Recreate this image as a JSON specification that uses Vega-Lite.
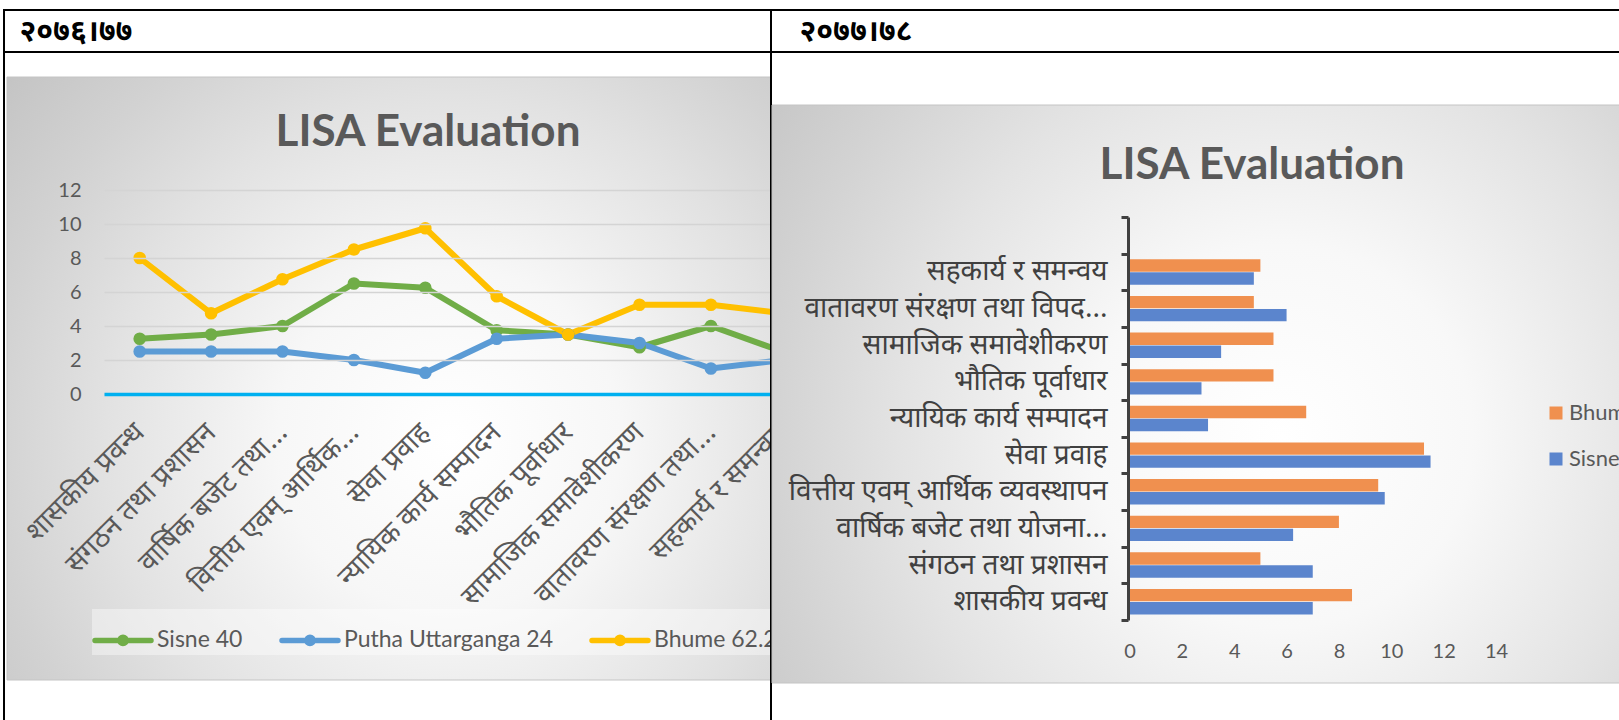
{
  "$schema": "https://vega.github.io/schema/vega-lite/v6.json",
  "padding": {"left": 2, "top": -5, "right": 0, "bottom": 0},
  "background": "#ffffff",
  "config": {
    "view": {"stroke": "#000000", "strokeWidth": 2, "fill": "#ffffff"},
    "font": "Lato"
  },
  "datasets": {
    "line2076": [
      {"indicator": "शासकीय प्रवन्ध", "series": "Sisne  40", "score": 3.25},
      {"indicator": "संगठन तथा प्रशासन", "series": "Sisne  40", "score": 3.5},
      {"indicator": "वार्षिक बजेट तथा…", "series": "Sisne  40", "score": 4},
      {"indicator": "वित्तीय एवम् आर्थिक…", "series": "Sisne  40", "score": 6.5},
      {"indicator": "सेवा प्रवाह", "series": "Sisne  40", "score": 6.25},
      {"indicator": "न्यायिक कार्य सम्पादन", "series": "Sisne  40", "score": 3.75},
      {"indicator": "भौतिक पूर्वाधार", "series": "Sisne  40", "score": 3.5},
      {"indicator": "सामाजिक समावेशीकरण", "series": "Sisne  40", "score": 2.75},
      {"indicator": "वातावरण संरक्षण तथा…", "series": "Sisne  40", "score": 4},
      {"indicator": "सहकार्य र समन्वय", "series": "Sisne  40", "score": 2.5},
      {"indicator": "शासकीय प्रवन्ध", "series": "Putha Uttarganga  24", "score": 2.5},
      {"indicator": "संगठन तथा प्रशासन", "series": "Putha Uttarganga  24", "score": 2.5},
      {"indicator": "वार्षिक बजेट तथा…", "series": "Putha Uttarganga  24", "score": 2.5},
      {"indicator": "वित्तीय एवम् आर्थिक…", "series": "Putha Uttarganga  24", "score": 2},
      {"indicator": "सेवा प्रवाह", "series": "Putha Uttarganga  24", "score": 1.25},
      {"indicator": "न्यायिक कार्य सम्पादन", "series": "Putha Uttarganga  24", "score": 3.25},
      {"indicator": "भौतिक पूर्वाधार", "series": "Putha Uttarganga  24", "score": 3.5},
      {"indicator": "सामाजिक समावेशीकरण", "series": "Putha Uttarganga  24", "score": 3},
      {"indicator": "वातावरण संरक्षण तथा…", "series": "Putha Uttarganga  24", "score": 1.5},
      {"indicator": "सहकार्य र समन्वय", "series": "Putha Uttarganga  24", "score": 2},
      {"indicator": "शासकीय प्रवन्ध", "series": "Bhume  62.25", "score": 8},
      {"indicator": "संगठन तथा प्रशासन", "series": "Bhume  62.25", "score": 4.75},
      {"indicator": "वार्षिक बजेट तथा…", "series": "Bhume  62.25", "score": 6.75},
      {"indicator": "वित्तीय एवम् आर्थिक…", "series": "Bhume  62.25", "score": 8.5},
      {"indicator": "सेवा प्रवाह", "series": "Bhume  62.25", "score": 9.75},
      {"indicator": "न्यायिक कार्य सम्पादन", "series": "Bhume  62.25", "score": 5.75},
      {"indicator": "भौतिक पूर्वाधार", "series": "Bhume  62.25", "score": 3.5},
      {"indicator": "सामाजिक समावेशीकरण", "series": "Bhume  62.25", "score": 5.25},
      {"indicator": "वातावरण संरक्षण तथा…", "series": "Bhume  62.25", "score": 5.25},
      {"indicator": "सहकार्य र समन्वय", "series": "Bhume  62.25", "score": 4.75}
    ],
    "bar2077": [
      {"indicator": "सहकार्य र समन्वय", "series": "Bhume", "score": 5},
      {"indicator": "वातावरण संरक्षण तथा विपद…", "series": "Bhume", "score": 4.75},
      {"indicator": "सामाजिक समावेशीकरण", "series": "Bhume", "score": 5.5},
      {"indicator": "भौतिक पूर्वाधार", "series": "Bhume", "score": 5.5},
      {"indicator": "न्यायिक कार्य सम्पादन", "series": "Bhume", "score": 6.75},
      {"indicator": "सेवा प्रवाह", "series": "Bhume", "score": 11.25},
      {"indicator": "वित्तीय एवम् आर्थिक व्यवस्थापन", "series": "Bhume", "score": 9.5},
      {"indicator": "वार्षिक बजेट तथा योजना…", "series": "Bhume", "score": 8},
      {"indicator": "संगठन तथा प्रशासन", "series": "Bhume", "score": 5},
      {"indicator": "शासकीय प्रवन्ध", "series": "Bhume", "score": 8.5},
      {"indicator": "सहकार्य र समन्वय", "series": "Sisne", "score": 4.75},
      {"indicator": "वातावरण संरक्षण तथा विपद…", "series": "Sisne", "score": 6},
      {"indicator": "सामाजिक समावेशीकरण", "series": "Sisne", "score": 3.5},
      {"indicator": "भौतिक पूर्वाधार", "series": "Sisne", "score": 2.75},
      {"indicator": "न्यायिक कार्य सम्पादन", "series": "Sisne", "score": 3},
      {"indicator": "सेवा प्रवाह", "series": "Sisne", "score": 11.5},
      {"indicator": "वित्तीय एवम् आर्थिक व्यवस्थापन", "series": "Sisne", "score": 9.75},
      {"indicator": "वार्षिक बजेट तथा योजना…", "series": "Sisne", "score": 6.25},
      {"indicator": "संगठन तथा प्रशासन", "series": "Sisne", "score": 7},
      {"indicator": "शासकीय प्रवन्ध", "series": "Sisne", "score": 7}
    ]
  },
  "spacing": 0,
  "bounds": "flush",
  "resolve": {"scale": {"color": "independent"}, "legend": {"color": "independent"}},
  "hconcat": [
    {
      "width": 767,
      "height": 714,
      "resolve": {"scale": {"x": "independent", "y": "independent"}},
      "layer": [
        {
          "data": {"values": [{"cell": "header"}]},
          "mark": {"type": "rule", "color": "#000000", "strokeWidth": 2},
          "encoding": {
            "y": {"datum": 0, "type": "quantitative", "scale": {"domain": [0, 1], "range": [42, 714]},
              "axis": {"orient": "left", "zindex": 1, "minExtent": 0, "maxExtent": 0, "domain": false, "labels": false, "ticks": false, "grid": false,
                "title": "२०७६।७७", "titleAngle": 0, "titleX": 15, "titleY": 30, "titleAlign": "left", "titleBaseline": "alphabetic",
                "titleFont": "Noto Sans Devanagari, sans-serif", "titleFontSize": 30, "titleFontWeight": "bold", "titleColor": "#000000"}}
          }
        },
        {
          "data": {"values": [{"frame": "chart area"}]},
          "mark": {"type": "rect", "stroke": "#c4c4c4", "strokeWidth": 1,
            "fill": {"gradient": "radial", "x1": 0.58, "y1": 0.58, "r1": 0, "x2": 0.58, "y2": 0.58, "r2": 0.75,
              "stops": [{"offset": 0, "color": "#ffffff"}, {"offset": 0.3, "color": "#f7f7f7"}, {"offset": 0.6, "color": "#e2e2e2"}, {"offset": 0.8, "color": "#d2d2d2"}, {"offset": 1, "color": "#c4c4c4"}]}},
          "encoding": {
            "x": {"datum": 0, "type": "quantitative", "scale": {"domain": [0, 1], "range": [3, 767]},
              "axis": {"orient": "top", "zindex": 1, "minExtent": 0, "maxExtent": 0, "domain": false, "labels": false, "ticks": false, "grid": false,
                "title": "LISA Evaluation", "titleX": 423.5, "titleY": 135, "titleAlign": "center", "titleAnchor": "middle", "titleBaseline": "alphabetic",
                "titleFont": "Lato", "titleFontSize": 44, "titleFontWeight": "bold", "titleColor": "#595959"}},
            "x2": {"datum": 1},
            "y": {"datum": 0, "type": "quantitative", "scale": {"domain": [0, 1], "range": [67, 670]}, "axis": null},
            "y2": {"datum": 1}
          }
        },
        {
          "data": {"name": "line2076"},
          "encoding": {
            "x": {"field": "indicator", "type": "nominal",
              "sort": ["शासकीय प्रवन्ध", "संगठन तथा प्रशासन", "वार्षिक बजेट तथा…", "वित्तीय एवम् आर्थिक…", "सेवा प्रवाह", "न्यायिक कार्य सम्पादन", "भौतिक पूर्वाधार", "सामाजिक समावेशीकरण", "वातावरण संरक्षण तथा…", "सहकार्य र समन्वय"],
              "scale": {"type": "point", "range": [100, 814], "padding": 0.5},
              "axis": {"orient": "bottom", "zindex": 1, "offset": -330, "title": null, "labelAngle": -45, "labelBaseline": "middle", "labelAlign": "right", "labelFont": "Noto Sans Devanagari, sans-serif", "labelFontSize": 28, "labelColor": "#595959", "labelPadding": 34, "labelLimit": 500, "labelOverlap": false, "ticks": false, "domain": true, "domainColor": "#00b0f0", "domainWidth": 3.5, "grid": false}
            },
            "y": {"field": "score", "type": "quantitative",
              "scale": {"domain": [0, 12], "range": [384, 180], "nice": false},
              "axis": {"orient": "left", "zindex": 1, "offset": -92, "title": null, "values": [0, 2, 4, 6, 8, 10, 12], "grid": true, "gridColor": "#d4d4d4", "gridWidth": 1.3, "domain": false, "ticks": false, "labelFont": "Lato", "labelFontSize": 20, "labelColor": "#595959", "labelPadding": 15}
            },
            "color": {"field": "series", "type": "nominal",
              "scale": {"domain": ["Sisne  40", "Putha Uttarganga  24", "Bhume  62.25"], "range": ["#70ad47", "#5b9bd5", "#ffc000"]},
              "legend": {"orient": "none", "legendX": 88, "legendY": 599, "direction": "horizontal", "title": null,
                "symbolType": "M-1,0H1M0.116,0A0.116,0.116,0,1,1,-0.116,0A0.116,0.116,0,1,1,0.116,0",
                "symbolSize": 3136, "symbolStrokeWidth": 5.5, "labelFont": "Lato", "labelFontSize": 23, "labelColor": "#595959", "labelOffset": 3, "columnPadding": 22, "padding": 0, "fillColor": "rgba(255,255,255,0.4)", "labelLimit": 500,
                "encode": {"symbols": {"update": {"strokeCap": {"value": "round"}}}}}
            }
          },
          "layer": [
            {"mark": {"type": "line", "strokeWidth": 6, "strokeCap": "round", "strokeJoin": "round"}},
            {"mark": {"type": "point", "filled": true, "size": 160, "opacity": 1}}
          ]
        }
      ]
    },
    {
      "width": 850,
      "height": 714,
      "resolve": {"scale": {"x": "independent", "y": "independent"}},
      "layer": [
        {
          "data": {"values": [{"cell": "header"}]},
          "mark": {"type": "rule", "color": "#000000", "strokeWidth": 2},
          "encoding": {
            "y": {"datum": 0, "type": "quantitative", "scale": {"domain": [0, 1], "range": [42, 714]},
              "axis": {"orient": "left", "zindex": 1, "minExtent": 0, "maxExtent": 0, "domain": false, "labels": false, "ticks": false, "grid": false,
                "title": "२०७७।७८", "titleAngle": 0, "titleX": 28, "titleY": 30, "titleAlign": "left", "titleBaseline": "alphabetic",
                "titleFont": "Noto Sans Devanagari, sans-serif", "titleFontSize": 30, "titleFontWeight": "bold", "titleColor": "#000000"}}
          }
        },
        {
          "data": {"values": [{"frame": "chart area"}]},
          "mark": {"type": "rect", "stroke": "#c4c4c4", "strokeWidth": 1,
            "fill": {"gradient": "radial", "x1": 0.6, "y1": 0.55, "r1": 0, "x2": 0.6, "y2": 0.55, "r2": 0.75,
              "stops": [{"offset": 0, "color": "#ffffff"}, {"offset": 0.3, "color": "#f8f8f8"}, {"offset": 0.6, "color": "#e3e3e3"}, {"offset": 0.8, "color": "#d3d3d3"}, {"offset": 1, "color": "#c4c4c4"}]}},
          "encoding": {
            "x": {"datum": 0, "type": "quantitative", "scale": {"domain": [0, 1], "range": [1, 850]},
              "axis": {"orient": "top", "zindex": 1, "minExtent": 0, "maxExtent": 0, "domain": false, "labels": false, "ticks": false, "grid": false,
                "title": "LISA Evaluation", "titleX": 480.5, "titleY": 168, "titleAlign": "center", "titleAnchor": "middle", "titleBaseline": "alphabetic",
                "titleFont": "Lato", "titleFontSize": 44, "titleFontWeight": "bold", "titleColor": "#595959"}},
            "x2": {"datum": 1},
            "y": {"datum": 0, "type": "quantitative", "scale": {"domain": [0, 1], "range": [95, 673]}, "axis": null},
            "y2": {"datum": 1}
          }
        },
        {
          "data": {"name": "bar2077"},
          "mark": {"type": "bar"},
          "encoding": {
            "y": {"field": "indicator", "type": "nominal",
              "scale": {"domain": [" ", "सहकार्य र समन्वय", "वातावरण संरक्षण तथा विपद…", "सामाजिक समावेशीकरण", "भौतिक पूर्वाधार", "न्यायिक कार्य सम्पादन", "सेवा प्रवाह", "वित्तीय एवम् आर्थिक व्यवस्थापन", "वार्षिक बजेट तथा योजना…", "संगठन तथा प्रशासन", "शासकीय प्रवन्ध"], "range": [207, 610], "paddingInner": 0, "paddingOuter": 0},
              "axis": {"orient": "left", "zindex": 1, "offset": -357, "title": null, "domain": true, "domainColor": "#404040", "domainWidth": 3, "ticks": true, "tickColor": "#404040", "tickWidth": 3, "tickSize": 7, "tickBand": "extent", "labelPadding": 14, "labelFont": "Noto Sans Devanagari, sans-serif", "labelFontSize": 28, "labelColor": "#404040", "labelLimit": 500, "grid": false}
            },
            "x": {"field": "score", "type": "quantitative",
              "scale": {"domain": [0, 14], "range": [358.5, 725], "nice": false},
              "axis": {"orient": "bottom", "zindex": 1, "offset": -104, "title": null, "values": [0, 2, 4, 6, 8, 10, 12, 14], "grid": false, "domain": false, "ticks": false, "tickSize": 0, "labelFlush": false, "labelPadding": 21, "labelFont": "Lato", "labelFontSize": 20, "labelColor": "#595959"}
            },
            "yOffset": {"field": "series", "type": "nominal", "scale": {"domain": ["Bhume", "Sisne"], "paddingInner": 0.05, "paddingOuter": 0.43}},
            "color": {"field": "series", "type": "nominal",
              "scale": {"domain": ["Bhume", "Sisne"], "range": ["#f0904f", "#5b85cd"]},
              "legend": {"orient": "none", "legendX": 771, "legendY": 389, "direction": "vertical", "title": null, "symbolType": "square", "symbolSize": 169, "symbolStrokeWidth": 0, "labelFont": "Lato", "labelFontSize": 22, "labelColor": "#595959", "labelOffset": 2, "rowPadding": 24, "padding": 3}
            }
          }
        }
      ]
    }
  ]
}
